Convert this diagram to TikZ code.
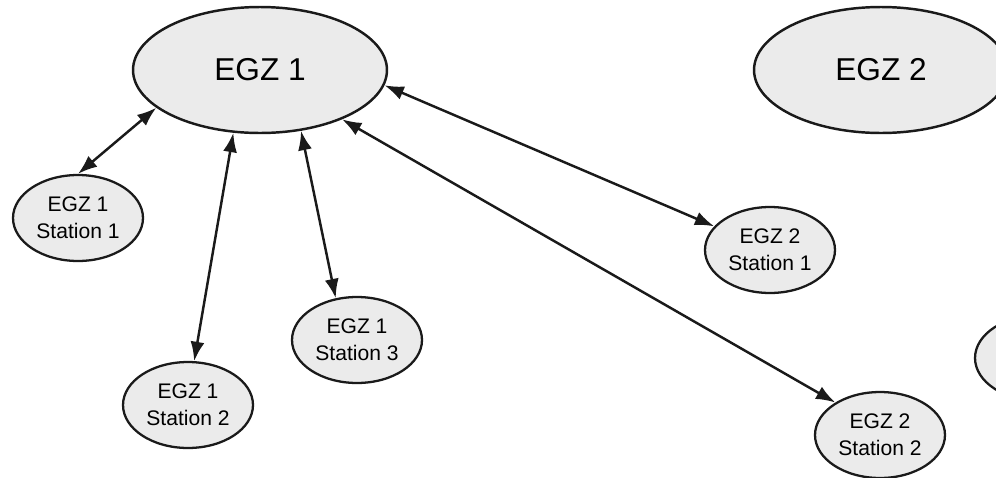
\documentclass[tikz,border=0pt]{standalone}
\usepackage{fontspec}
\setmainfont{Liberation Sans}
\usetikzlibrary{shapes.geometric,arrows.meta}
\definecolor{nodefill}{HTML}{EBEBEB}
\definecolor{nodeline}{HTML}{1A1A1A}

\begin{document}
\begin{tikzpicture}
[x=0.02cm,y=-0.02cm,%
  zonedecorate/.style={shape=ellipse,draw=nodeline,fill=nodefill,line width=1.4pt,
    minimum width=5.08cm,minimum height=2.52cm,inner sep=0pt,font=\fontsize{18}{20}\selectfont},%
  stationdecorate/.style={shape=ellipse,draw=nodeline,fill=nodefill,line width=1.3pt,
    minimum width=2.6cm,minimum height=1.72cm,inner sep=0pt,align=center,
    font=\fontsize{12}{15.5}\selectfont},%
  linedecorate/.style={{Latex[length=11pt,width=8pt]}-{Latex[length=11pt,width=8pt]},line width=1.4pt,draw=nodeline}]
\useasboundingbox (0,0) rectangle (996,477);
\clip (0,0) rectangle (996,477);
%% zones
\node (egz1) at (260,70) [zonedecorate] {EGZ 1};
\node (egz2) at (881,70) [zonedecorate] {EGZ 2};
%% stations
\foreach \nodename/\x/\y/\label in {st11/78/218/{EGZ 1\\Station 1},
  st12/188/405/{EGZ 1\\Station 2}, st13/357/340/{EGZ 1\\Station 3},
  st21/770/250/{EGZ 2\\Station 1}, st22/880/435/{EGZ 2\\Station 2},
  st23/1040/358/{}}
{
  \node (\nodename) at (\x,\y) [stationdecorate] {\label};
}
%% links
\path
\foreach \startnode/\endnode in {st11.north/egz1.200, st12.82/egz1.247,
  st13.117/egz1.304, st21.157/egz1.353, st22.144/egz1.329}
{
  (\startnode) edge[linedecorate] (\endnode)
};
\end{tikzpicture}
\end{document}
